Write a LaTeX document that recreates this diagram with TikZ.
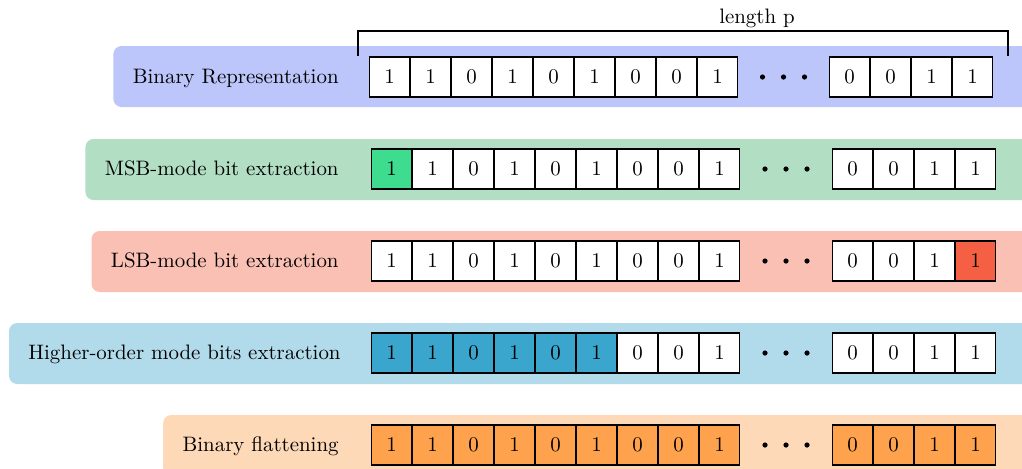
\documentclass[tikz,border=0pt]{standalone}
\usetikzlibrary{backgrounds}

\definecolor{bgblue}{RGB}{188,198,250}
\definecolor{bggreen}{RGB}{178,223,196}
\definecolor{cellgreen}{RGB}{62,220,143}
\definecolor{bgsalmon}{RGB}{251,192,180}
\definecolor{cellred}{RGB}{245,96,68}
\definecolor{bgsky}{RGB}{177,219,234}
\definecolor{cellsky}{RGB}{58,165,205}
\definecolor{bgpeach}{RGB}{253,217,184}
\definecolor{cellorange}{RGB}{255,162,78}

\tikzset{
  every node/.style={font=\fontsize{10.45pt}{12.5pt}\selectfont},
  bit/.style={draw, line width=0.75pt, minimum width=20.2pt, minimum height=20.2pt,
    inner sep=0pt, anchor=center},
  rowlabel/.style={anchor=east, inner sep=0pt, text height=1.5ex, text depth=0.25ex},
  rowbg/.style={rounded corners=4pt},
  bracket/.style={line width=0.7pt},
  dot/.style={fill=black},
}

% one row: name, centre y, start of first group, start of second group,
% bits/fills of first group, bits/fills of second group
\newcommand{\bitrow}[6]{%
  \foreach \b/\f [count=\i] in {#5}
    \node[bit, fill=\f] (#1a\i) at ({#3+(\i-0.5)*41},#2) {\b};
  \foreach \b/\f [count=\i] in {#6}
    \node[bit, fill=\f] (#1b\i) at ({#4+(\i-0.5)*41},#2) {\b};
  \path (#1a9.east) -- (#1b1.west) coordinate[midway] (#1mid);
  \foreach \k in {-1,0,1}
    \fill[dot] ([xshift=\k*10.5pt]#1mid) circle (1.3pt);
}

\begin{document}
\begin{tikzpicture}[x=0.5pt,y=-0.5pt]
  \clip (0,0) rectangle (1022,468);

  % bracket over the bit string
  \coordinate (bl) at (358,56);
  \coordinate (br) at (1008,56);
  \draw[bracket] (bl) -- (bl |- 0,31) -- (br |- 0,31) -- (br);
  \node (lenlab) at (757,18) {length p};

  % row labels
  \node[rowlabel] (lab1) at (339,78)  {Binary Representation};
  \node[rowlabel] (lab2) at (339,170) {MSB-mode bit extraction};
  \node[rowlabel] (lab3) at (339,262) {LSB-mode bit extraction};
  \node[rowlabel] (lab4) at (341,354) {Higher-order mode bits extraction};
  \node[rowlabel] (lab5) at (339,446) {Binary flattening};

  % bit cells
  \bitrow{r1}{77}{369}{829}
    {1/white,1/white,0/white,1/white,0/white,1/white,0/white,0/white,1/white}
    {0/white,0/white,1/white,1/white}
  \bitrow{r2}{169}{371}{832}
    {1/cellgreen,1/white,0/white,1/white,0/white,1/white,0/white,0/white,1/white}
    {0/white,0/white,1/white,1/white}
  \bitrow{r3}{261}{371}{832}
    {1/white,1/white,0/white,1/white,0/white,1/white,0/white,0/white,1/white}
    {0/white,0/white,1/white,1/cellred}
  \bitrow{r4}{353}{371}{832}
    {1/cellsky,1/cellsky,0/cellsky,1/cellsky,0/cellsky,1/cellsky,0/white,0/white,1/white}
    {0/white,0/white,1/white,1/white}
  \bitrow{r5}{445}{371}{832}
    {1/cellorange,1/cellorange,0/cellorange,1/cellorange,0/cellorange,1/cellorange,0/cellorange,0/cellorange,1/cellorange}
    {0/cellorange,0/cellorange,1/cellorange,1/cellorange}

  % coloured row bands
  \begin{pgfonlayer}{background}
    \fill[rowbg, bgblue]   ([xshift=-9.5pt]lab1.west |- 0,46)  rectangle (1040,107);
    \fill[rowbg, bggreen]  ([xshift=-9.5pt]lab2.west |- 0,139) rectangle (1040,200);
    \fill[rowbg, bgsalmon] ([xshift=-9.5pt]lab3.west |- 0,231) rectangle (1040,292);
    \fill[rowbg, bgsky]    ([xshift=-9.5pt]lab4.west |- 0,323) rectangle (1040,384);
    \fill[rowbg, bgpeach]  ([xshift=-9.5pt]lab5.west |- 0,415) rectangle (1040,476);
  \end{pgfonlayer}
\end{tikzpicture}
\end{document}
